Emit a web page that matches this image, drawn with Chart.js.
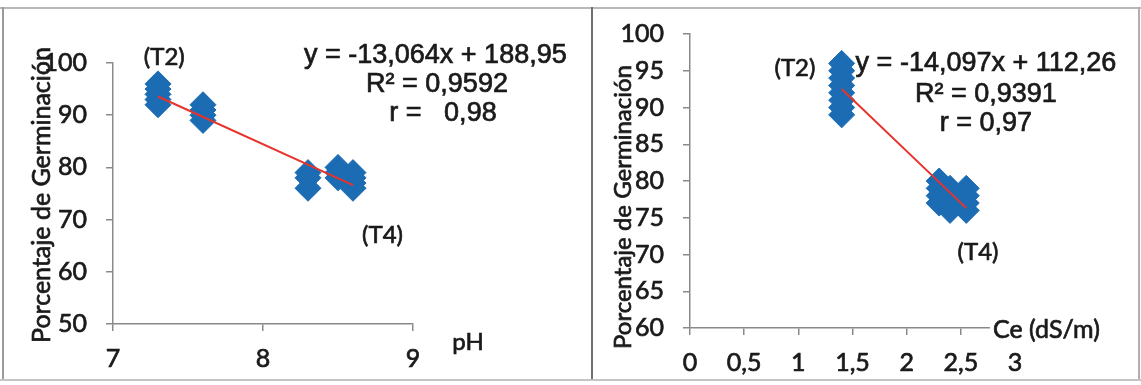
<!DOCTYPE html>
<html>
<head>
<meta charset="utf-8">
<script src="https://cdn.jsdelivr.net/npm/chart.js@4/dist/chart.umd.min.js"></script>
<style>
  html, body { margin: 0; padding: 0; background: #fff; }
  body { width: 1141px; height: 385px; position: relative; overflow: hidden; }
  canvas { position: absolute; top: 0; }
  #phChart { left: 0; }
  #ceChart { left: 594px; }
  .rule { position: absolute; background: #a9a9a9; }
</style>
</head>
<body>
<canvas id="phChart" width="590" height="385"></canvas>
<canvas id="ceChart" width="547" height="385"></canvas>
<div class="rule" style="left:0;top:7px;width:1141px;height:2px;background:#b8b8b8"></div>
<div class="rule" style="left:2px;top:7px;width:2px;height:373px;background:#9a9a9a"></div>
<div class="rule" style="left:591px;top:7px;width:2px;height:373px;background:#6f6f6f"></div>
<div class="rule" style="left:1138px;top:7px;width:2px;height:373px;background:#b0b0b0"></div>
<div class="rule" style="left:0;top:379px;width:1141px;height:2px;background:#c4c4c4"></div>
<script>
// ---- Germination percentage against pH ----
const phValues   = [7.3, 7.3, 7.3, 7.3, 7.3, 7.6, 7.6, 7.6, 7.6, 8.3, 8.3, 8.3, 8.5, 8.5, 8.5, 8.6, 8.6, 8.6, 8.6];
const phGermination = [96, 95, 94, 93, 92, 92, 91, 90, 89, 79, 78, 76, 80, 79, 78, 79, 78, 77, 76];
const phTrend = { slope: -13.064, intercept: 188.95, from: 7.3, to: 8.6 };
const phXTickLabels = ['7', '8', '9'];
const phYTickLabels = ['50', '60', '70', '80', '90', '100'];

// ---- Germination percentage against electrical conductivity ----
const ceValues   = [1.4, 1.4, 1.4, 1.4, 1.4, 1.4, 1.4, 1.4,
                    2.3, 2.3, 2.3, 2.3, 2.4, 2.4, 2.4, 2.4, 2.55, 2.55, 2.55, 2.55];
const ceGermination = [96, 95, 94, 93, 92, 91, 90, 89,
                       80, 79, 78, 77, 79, 78, 77, 76, 79, 78, 77, 76];
const ceTrend = { slope: -14.097, intercept: 112.26, from: 1.4, to: 2.55 };
const ceXTickLabels = ['0', '0,5', '1', '1,5', '2', '2,5', '3'];
const ceYTickLabels = ['60', '65', '70', '75', '80', '85', '90', '95', '100'];

const INK = '#1a1a1a';
const AXIS = '#8a8a8a';
const MARKER = '#1c6cb4';
const TREND = '#e8322c';
const SANS = 'Lato, "Open Sans", sans-serif';
const ARIAL = '"Liberation Sans", Arial, sans-serif';
const INK_STROKE = 0.7;

function points(xs, ys) { return xs.map((x, i) => ({ x, y: ys[i] })); }
function trendPoints(t) {
  return [t.from, t.to].map(x => ({ x, y: t.slope * x + t.intercept }));
}

// Draws free text: either at data coordinates (x/y) or at canvas pixels (px/py).
const panelText = {
  id: 'panelText',
  afterDatasetsDraw(chart, args, opts) {
    const ctx = chart.ctx;
    const sx = chart.scales.x, sy = chart.scales.y;
    (opts.items || []).forEach(it => {
      const px = it.px !== undefined ? it.px : sx.getPixelForValue(it.x);
      const py = it.py !== undefined ? it.py : sy.getPixelForValue(it.y);
      ctx.save();
      ctx.font = it.font;
      ctx.textAlign = it.align || 'center';
      ctx.textBaseline = 'middle';
      ctx.translate(px, py);
      if (it.rotate) ctx.rotate(it.rotate);
      if (it.background) {
        const w = ctx.measureText(it.text).width;
        const x0 = ctx.textAlign === 'left' ? -3 : -w / 2 - 3;
        ctx.fillStyle = it.background;
        ctx.fillRect(x0, -14, w + 6, 28);
      }
      ctx.fillStyle = INK;
      ctx.strokeStyle = INK;
      ctx.lineWidth = INK_STROKE;
      ctx.fillText(it.text, 0, 0);
      ctx.strokeText(it.text, 0, 0);
      ctx.restore();
    });
  }
};

function axisStyle(labels, fontSize, pad) {
  return {
    ticks: {
      color: INK,
      font: { family: SANS, size: fontSize },
      padding: pad,
      autoSkip: false,
      maxRotation: 0,
      textStrokeColor: INK,
      textStrokeWidth: INK_STROKE,
      callback: (v, i) => labels[i]
    },
    grid: { drawOnChartArea: false, drawTicks: true, tickLength: 7, color: AXIS, lineWidth: 1.5 },
    border: { display: true, color: AXIS, width: 1.5 }
  };
}

function makeChart(id, cfg) {
  const xAxis = axisStyle(cfg.xLabels, 25, 13);
  const yAxis = axisStyle(cfg.yLabels, 25, 19);
  return new Chart(document.getElementById(id), {
    type: 'scatter',
    data: {
      datasets: [
        {
          type: 'line',
          data: trendPoints(cfg.trend),
          borderColor: TREND,
          borderWidth: 2,
          pointRadius: 0,
          fill: false,
          order: 0
        },
        {
          data: points(cfg.xs, cfg.ys),
          pointStyle: 'rectRot',
          pointRadius: 13,
          backgroundColor: MARKER,
          borderColor: MARKER,
          borderWidth: 1,
          order: 1
        }
      ]
    },
    options: {
      responsive: false,
      animation: false,
      events: [],
      layout: { padding: cfg.padding },
      plugins: {
        legend: { display: false },
        tooltip: { enabled: false },
        panelText: { items: cfg.text }
      },
      scales: {
        x: Object.assign({
          type: 'linear', min: cfg.xMin, max: cfg.xMax,
          afterFit: s => { s.height = cfg.xAxisHeight; }
        }, xAxis, { ticks: Object.assign(xAxis.ticks, { stepSize: cfg.xStep }) }),
        y: Object.assign({
          type: 'linear', min: cfg.yMin, max: cfg.yMax,
          afterFit: s => { s.width = cfg.yAxisWidth; }
        }, yAxis, { ticks: Object.assign(yAxis.ticks, { stepSize: cfg.yStep }) })
      }
    },
    plugins: [panelText]
  });
}

makeChart('phChart', {
  xs: phValues, ys: phGermination, trend: phTrend,
  xLabels: phXTickLabels, yLabels: phYTickLabels,
  xMin: 7, xMax: 9, xStep: 1, yMin: 50, yMax: 100, yStep: 10,
  padding: { top: 63, right: 177, left: 0, bottom: 0 },
  yAxisWidth: 113, xAxisHeight: 61,
  text: [
    { text: 'Porcentaje de Germinación', px: 42, py: 195, rotate: -Math.PI / 2, font: `25px ${SANS}` },
    { text: '(T2)', x: 7.342, y: 101.15, font: `24px ${SANS}` },
    { text: '(T4)', x: 8.797, y: 67.05, font: `24px ${SANS}` },
    { text: 'pH', x: 9.262, y: 46.55, align: 'left', font: `24px ${SANS}` },
    { text: 'y = -13,064x + 188,95', x: 9.149, y: 101.5, font: `27px ${ARIAL}` },
    { text: 'R² = 0,9592', x: 9.16, y: 95.8, font: `27px ${ARIAL}` },
    { text: 'r =   0,98', x: 9.2, y: 90.4, font: `27px ${ARIAL}` }
  ]
});

makeChart('ceChart', {
  xs: ceValues, ys: ceGermination, trend: ceTrend,
  xLabels: ceXTickLabels, yLabels: ceYTickLabels,
  xMin: 0, xMax: 3, xStep: 0.5, yMin: 60, yMax: 100, yStep: 5,
  padding: { top: 32, right: 126, left: 0, bottom: 0 },
  yAxisWidth: 96, xAxisHeight: 57,
  text: [
    { text: 'Porcentaje de Germinación', px: 29, py: 207, rotate: -Math.PI / 2, font: `24px ${SANS}` },
    { text: '(T2)', x: 0.969, y: 95.27, font: `24px ${SANS}` },
    { text: '(T4)', x: 2.659, y: 70.27, font: `24px ${SANS}` },
    { text: 'Ce (dS/m)', x: 2.797, y: 59.73, align: 'left', background: '#fff', font: `25px ${SANS}` },
    { text: 'y = -14,097x + 112,26', x: 2.732, y: 95.95, font: `27px ${ARIAL}` },
    { text: 'R² = 0,9391', x: 2.732, y: 91.76, font: `27px ${ARIAL}` },
    { text: 'r = 0,97', x: 2.732, y: 87.84, font: `27px ${ARIAL}` }
  ]
});
</script>
</body>
</html>
